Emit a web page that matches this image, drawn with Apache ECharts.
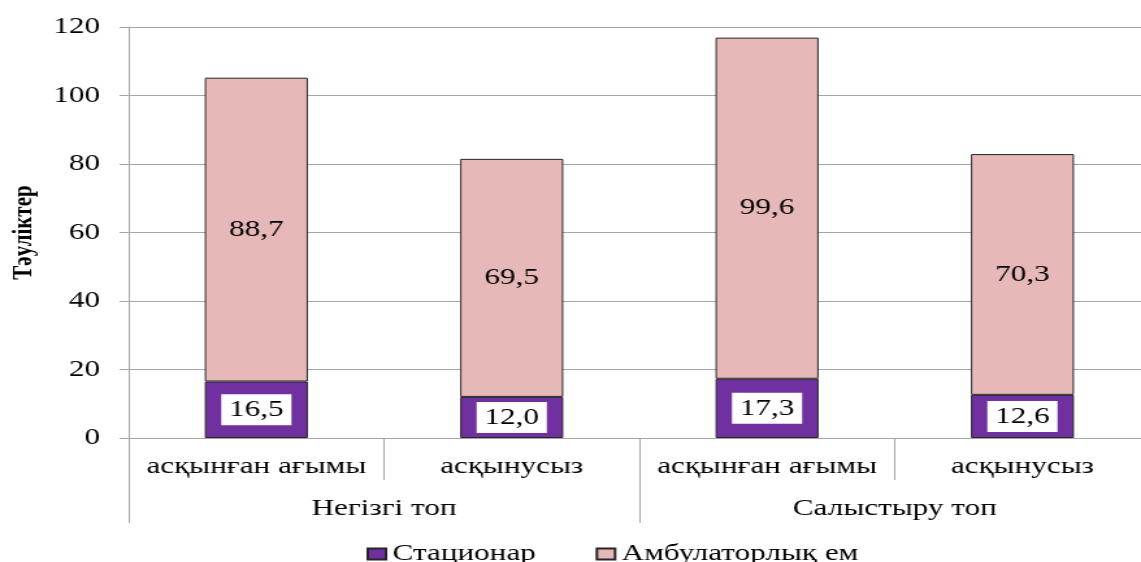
<!DOCTYPE html>
<html>
<head>
<meta charset="utf-8">
<script src="https://cdn.jsdelivr.net/npm/echarts@6/dist/echarts.min.js"></script>
<style>
  html, body { margin: 0; padding: 0; width: 1141px; height: 562px; overflow: hidden; background: #fff; }
  /* the chart is laid out narrower and widened horizontally, giving the wide serif lettering */
  #chart { width: 900px; height: 562px; transform: scaleX(1.29954); transform-origin: 0 0; }
</style>
</head>
<body>
<div id="chart"></div>
<script>
const categories = ['асқынған ағымы', 'асқынусыз', 'асқынған ағымы', 'асқынусыз'];
const groups = ['Негізгі топ', 'Салыстыру топ'];
const stationary = [16.5, 12.0, 17.3, 12.6];
const ambulatory = [88.7, 69.5, 99.6, 70.3];
const seriesNames = ['Стационар', 'Амбулаторлық ем'];
const yAxisTitle = 'Тәуліктер';
const yMin = 0, yMax = 120, yStep = 20;

const FONT = 'Liberation Serif, Times New Roman, serif';
const GRID_COLOR = '#a6a6a6';
const fmt = v => v.toFixed(1).replace('.', ',');

const chart = echarts.init(document.getElementById('chart'), null, { renderer: 'canvas' });
chart.setOption({
  animation: false,
  textStyle: { fontFamily: FONT, color: '#000' },
  grid: { left: 93.9, top: 27, width: 791.1, height: 411 },
  legend: {
    data: seriesNames,
    top: 537,
    left: 277,
    itemWidth: 14,
    itemHeight: 11,
    itemGap: 46,
    icon: 'rect',
    textStyle: { fontFamily: FONT, fontSize: 24, color: '#000' }
  },
  xAxis: [
    {
      type: 'category',
      data: categories,
      position: 'bottom',
      axisLine: { show: true, lineStyle: { color: GRID_COLOR, width: 1 } },
      axisTick: { show: true, length: 42, alignWithLabel: false, lineStyle: { color: GRID_COLOR } },
      axisLabel: { interval: 0, margin: 17, fontFamily: FONT, fontSize: 24, color: '#000' }
    },
    {
      type: 'category',
      data: groups,
      position: 'bottom',
      axisLine: { show: false },
      axisTick: { show: true, length: 85, alignWithLabel: false, lineStyle: { color: GRID_COLOR } },
      axisLabel: { interval: 0, margin: 59, fontFamily: FONT, fontSize: 24, color: '#000' }
    }
  ],
  yAxis: {
    type: 'value',
    min: yMin,
    max: yMax,
    interval: yStep,
    name: yAxisTitle,
    nameLocation: 'middle',
    nameGap: 70,
    nameTextStyle: { fontFamily: FONT, fontSize: 21, fontWeight: 'bold', color: '#000' },
    axisLine: { show: true, lineStyle: { color: GRID_COLOR } },
    axisTick: { show: true, length: 7, lineStyle: { color: GRID_COLOR } },
    axisLabel: { margin: 22, fontFamily: FONT, fontSize: 24, color: '#000' },
    splitLine: { show: true, lineStyle: { color: GRID_COLOR, width: 1 } }
  },
  series: [
    {
      name: seriesNames[0],
      type: 'bar',
      stack: 'days',
      xAxisIndex: 0,
      barWidth: 79.3,
      data: stationary,
      itemStyle: { color: '#7030A0', borderColor: '#262626', borderWidth: 1 },
      label: {
        show: true,
        position: 'inside',
        formatter: p => fmt(p.value),
        fontFamily: FONT,
        fontSize: 24,
        color: '#000',
        backgroundColor: '#fff',
        padding: [4, 6, 3, 6]
      }
    },
    {
      name: seriesNames[1],
      type: 'bar',
      stack: 'days',
      xAxisIndex: 0,
      barWidth: 79.3,
      data: ambulatory,
      itemStyle: { color: '#E6B9B8', borderColor: '#262626', borderWidth: 1 },
      label: {
        show: true,
        position: 'inside',
        formatter: p => fmt(p.value),
        fontFamily: FONT,
        fontSize: 24,
        color: '#000'
      }
    }
  ]
});
</script>
</body>
</html>
